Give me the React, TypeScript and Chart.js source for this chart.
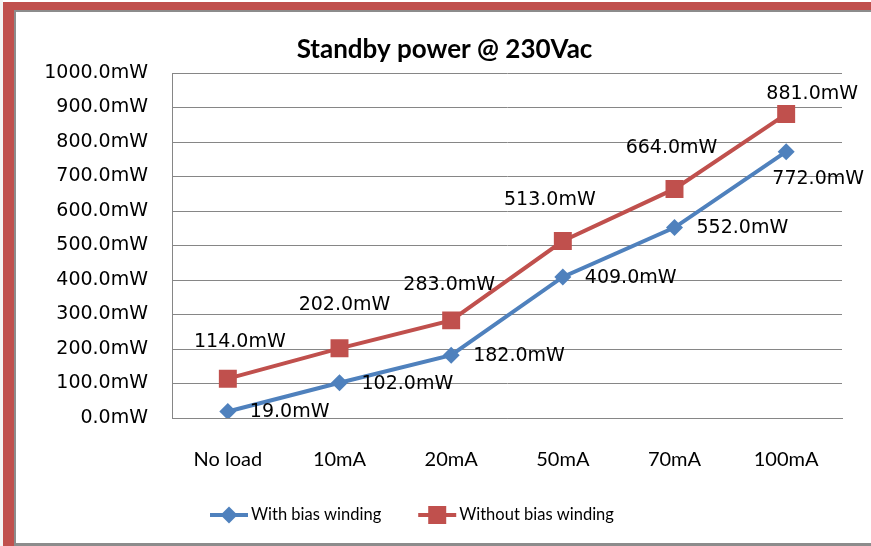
import React, { useEffect, useRef } from "react";
import { Chart, registerables } from "chart.js";

Chart.register(...registerables);

const titleText = "Standby power @ 230Vac";
const categories = ["No load", "10mA", "20mA", "50mA", "70mA", "100mA"];
const seriesNames = ["With bias winding", "Without bias winding"];
const withBias = [19, 102, 182, 409, 552, 772];
const withoutBias = [114, 202, 283, 513, 664, 881];
const yMin = 0;
const yMax = 1000;
const yStep = 100;

const BLUE = "#4F81BD";
const RED = "#C0504D";
const GRID = "#868686";

const fmt = (v: number) => v.toFixed(1) + "mW";

// label placement (style only)
const labelPlacement = [
  [
    { align: "left", dx: 22, dy: 1 },
    { align: "left", dx: 22, dy: 1 },
    { align: "left", dx: 22, dy: 1 },
    { align: "left", dx: 22, dy: 1 },
    { align: "left", dx: 22, dy: 1 },
    { align: "center", dx: 32, dy: 27 },
  ],
  [
    { align: "center", dx: 12, dy: -37 },
    { align: "center", dx: 5, dy: -43 },
    { align: "center", dx: -2, dy: -35 },
    { align: "center", dx: -13, dy: -41 },
    { align: "center", dx: -3, dy: -41 },
    { align: "center", dx: 26, dy: -20 },
  ],
];

const LABEL_FONT = '19px "DejaVu Sans"';
const LEGEND_FONT = '16.5px Lato';

const valueLabels = {
  id: "valueLabels",
  afterDatasetsDraw(chart: any) {
    const ctx = chart.ctx;
    ctx.save();
    ctx.font = LABEL_FONT;
    ctx.fillStyle = "#000";
    ctx.textBaseline = "middle";
    chart.data.datasets.forEach((ds: any, di: number) => {
      const meta = chart.getDatasetMeta(di);
      meta.data.forEach((pt: any, i: number) => {
        const p = labelPlacement[di][i];
        ctx.textAlign = p.align;
        ctx.fillText(fmt(ds.data[i]), pt.x + p.dx, pt.y + p.dy);
      });
    });
    ctx.restore();
  },
};

const titleAndLegend = {
  id: "titleAndLegend",
  afterDraw(chart: any) {
    const ctx = chart.ctx;
    ctx.save();
    // title
    ctx.font = 'bold 26px Lato';
    ctx.fillStyle = "#000";
    ctx.textAlign = "center";
    ctx.textBaseline = "middle";
    ctx.fillText(titleText, chart.width / 2 + 1, 38);
    // legend
    ctx.font = LEGEND_FONT;
    ctx.textAlign = "left";
    const y = 503;
    let x = chart.chartArea.left + 38;
    chart.data.datasets.forEach((ds: any) => {
      ctx.strokeStyle = ds.borderColor;
      ctx.lineWidth = 4;
      ctx.beginPath();
      ctx.moveTo(x, y);
      ctx.lineTo(x + 38, y);
      ctx.stroke();
      ctx.fillStyle = ds.pointBackgroundColor;
      const cx = x + 19;
      if (ds.pointStyle === "rectRot") {
        const r = 8.5;
        ctx.beginPath();
        ctx.moveTo(cx, y - r);
        ctx.lineTo(cx + r, y);
        ctx.lineTo(cx, y + r);
        ctx.lineTo(cx - r, y);
        ctx.closePath();
        ctx.fill();
      } else {
        ctx.fillRect(cx - 9, y - 9, 18, 18);
      }
      ctx.fillStyle = "#000";
      ctx.fillText(ds.label, x + 41, y);
      x += 41 + ctx.measureText(ds.label).width + 37;
    });
    ctx.restore();
  },
};

export default function App() {
  const ref = useRef<HTMLCanvasElement>(null);
  useEffect(() => {
    if (!ref.current) return;
    const chart = new Chart(ref.current, {
      type: "line",
      data: {
        labels: categories,
        datasets: [
          {
            label: seriesNames[0],
            data: withBias,
            borderColor: BLUE,
            backgroundColor: BLUE,
            pointBackgroundColor: BLUE,
            pointBorderColor: BLUE,
            pointBorderWidth: 0,
            borderWidth: 4,
            pointStyle: "rectRot",
            pointRadius: 8.5,
            pointHoverRadius: 8.5,
            tension: 0,
          },
          {
            label: seriesNames[1],
            data: withoutBias,
            borderColor: RED,
            backgroundColor: RED,
            pointBackgroundColor: RED,
            pointBorderColor: RED,
            pointBorderWidth: 0,
            borderWidth: 4,
            pointStyle: "rect",
            pointRadius: 12.7,
            pointHoverRadius: 12.7,
            tension: 0,
          },
        ],
      },
      options: {
        animation: false,
        responsive: false,
        maintainAspectRatio: false,
        layout: { padding: { left: 0, right: 29, top: 61, bottom: 0 } },
        plugins: {
          legend: { display: false },
          title: { display: false },
          tooltip: { enabled: false },
        },
        scales: {
          x: {
            offset: true,
            grid: { display: false, drawTicks: false },
            border: { display: true, color: GRID, width: 1 },
            ticks: { font: { family: "Lato", size: 20 }, color: "#000", padding: 30 },
            afterFit: (s: any) => { s.height = 125; },
          },
          y: {
            min: yMin,
            max: yMax,
            ticks: {
              stepSize: yStep,
              callback: (v: any) => fmt(Number(v)),
              font: { family: "DejaVu Sans", size: 19 },
              color: "#000",
              padding: 24,
            },
            grid: { color: GRID, lineWidth: 1, drawTicks: false },
            border: { display: true, color: GRID, width: 1 },
            afterFit: (s: any) => { s.width = 156; },
          },
        },
      },
      plugins: [valueLabels, titleAndLegend],
    });
    const fontsReady = Promise.all([
      document.fonts.load('20px Lato'),
      document.fonts.load('bold 26px Lato'),
      document.fonts.load('19px "DejaVu Sans"'),
    ]);
    fontsReady.then(() => chart.update()).catch(() => {});
    return () => chart.destroy();
  }, []);

  return (
    <div style={{ position: "absolute", left: 0, top: 0, width: 871, height: 546, background: "#fff", overflow: "hidden" }}>
      <div style={{ position: "absolute", left: 0, top: 0, width: 3, height: 546, background: "#f4f4f4" }} />
      <div style={{ position: "absolute", left: 3, top: 2, width: 868, height: 8, background: RED }} />
      <div style={{ position: "absolute", left: 3, top: 2, width: 11, height: 544, background: RED }} />
      <div style={{ position: "absolute", left: 14, top: 10, width: 857, height: 2, background: "#8c8c8c" }} />
      <div style={{ position: "absolute", left: 14, top: 10, width: 2, height: 536, background: "#8c8c8c" }} />
      <div style={{ position: "absolute", left: 14, top: 543, width: 857, height: 3, background: "#8c8c8c" }} />
      <canvas ref={ref} width={855} height={531} style={{ position: "absolute", left: 16, top: 12, width: 855, height: 531 }} />
    </div>
  );
}
